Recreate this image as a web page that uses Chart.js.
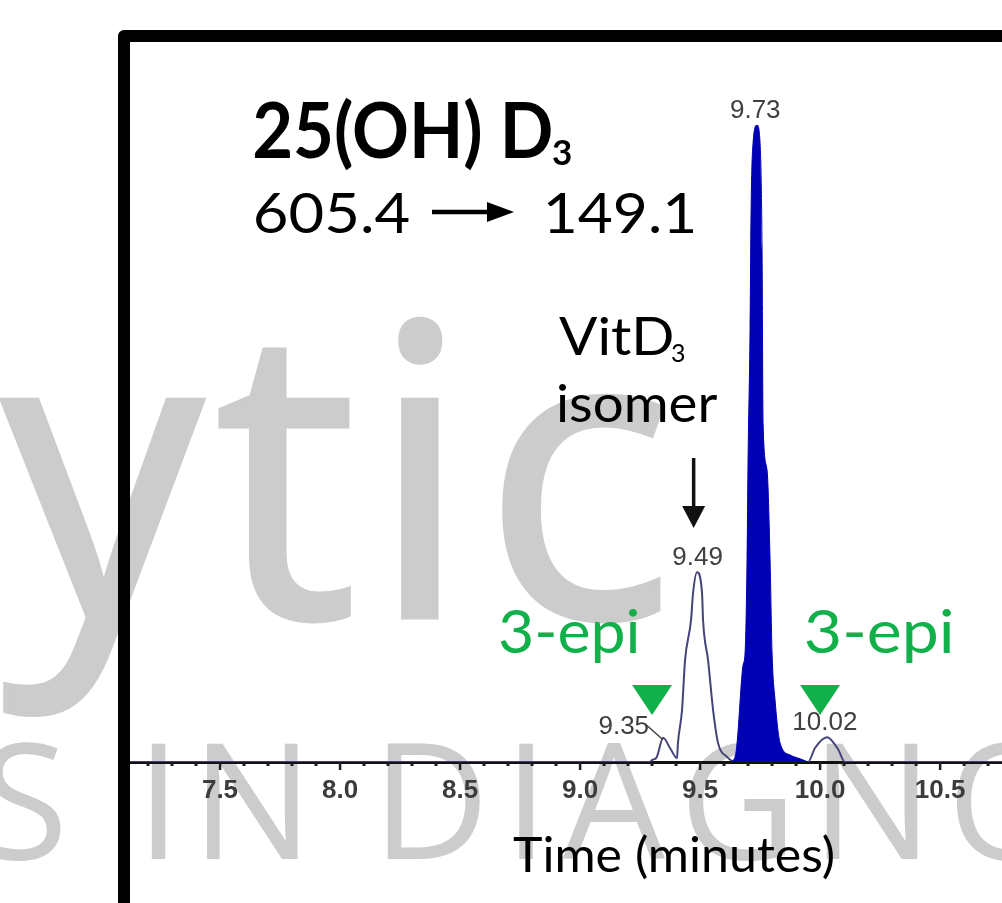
<!DOCTYPE html>
<html>
<head>
<meta charset="utf-8">
<script src="https://cdn.jsdelivr.net/npm/chart.js@4"></script>
<style>
  html, body { margin: 0; padding: 0; background: #fff; }
  #wrap { width: 1002px; height: 903px; position: relative; overflow: hidden; }
</style>
</head>
<body>
<div id="wrap"><canvas id="chart" width="1002" height="903"></canvas></div>
<script>
// Chromatogram trace (outline): time in minutes, relative signal
const traceTime = [7.125, 9.29, 9.30, 9.32, 9.346, 9.375, 9.404, 9.408, 9.425, 9.4375, 9.4625, 9.4708, 9.4875,
  9.5083, 9.5125, 9.5333, 9.5542, 9.575, 9.6125, 9.6458, 9.95, 9.979, 10.029, 10.075, 10.104, 10.758];
const traceSignal = [0, 0, 0.3, 0.8, 3.8, 2.2, 0.6, 3, 8.2, 16, 22.3, 26.5, 29.8,
  26.5, 22.3, 16, 8.2, 3, 0.8, 0, 0, 2.2, 3.9, 2, 0, 0];

// Integrated 25(OH)D3 peak (filled)
const peakTime = [9.625, 9.6458, 9.6542, 9.6792, 9.6875, 9.6958, 9.7, 9.7083, 9.7125, 9.7208, 9.7375,
  9.75, 9.7583, 9.7625, 9.7792, 9.7917, 9.8, 9.8125, 9.8333, 9.875, 9.9167, 9.95];
const peakSignal = [0, 0.8, 3.0, 15.2, 17.1, 31.7, 47.4, 67.8, 86.3, 97.2, 100,
  97.2, 80.4, 53.2, 45.8, 31.7, 17.1, 9.7, 3.0, 1.1, 0.5, 0];

// retention time labels
const peakLabels = ['9.35', '9.49', '9.73', '10.02'];
const peakLabelTimes = [9.35, 9.49, 9.73, 10.02];

// 3-epi markers
const epiTimes = [9.30, 10.00];

const xMin = 7.125;
const xMax = 10.758;

function toXY(xs, ys) {
  return xs.map((x, i) => ({ x: x, y: ys[i] }));
}

// draw text so that its ink starts at x, optionally squeezed to an ink width
function txt(ctx, s, x, y, font, color, w, stroke, spacing) {
  ctx.save();
  ctx.font = font;
  ctx.letterSpacing = spacing || '0px';
  ctx.fillStyle = color;
  ctx.textBaseline = 'alphabetic';
  ctx.textAlign = 'left';
  const m = ctx.measureText(s);
  const ink = m.actualBoundingBoxLeft + m.actualBoundingBoxRight;
  const k = w ? w / ink : 1;
  ctx.translate(x + m.actualBoundingBoxLeft * k, y);
  ctx.scale(k, 1);
  ctx.fillText(s, 0, 0);
  if (stroke) {
    ctx.strokeStyle = color;
    ctx.lineWidth = stroke;
    ctx.strokeText(s, 0, 0);
  }
  ctx.restore();
}

const watermark = {
  id: 'watermark',
  beforeDraw(chart) {
    const ctx = chart.ctx;
    ctx.save();
    ctx.fillStyle = '#fff';
    ctx.fillRect(0, 0, chart.width, chart.height);
    const grey = '#cccccc';
    txt(ctx, 'ytic', 2, 617, '405px "Open Sans"', grey, 662, 5, '12px');
    ctx.fillStyle = grey;
    ctx.textBaseline = 'alphabetic';
    ctx.font = '162px "Open Sans"';
    ctx.textAlign = 'right';
    ctx.fillText('S', 68, 859);
    ctx.textAlign = 'left';
    ctx.letterSpacing = '10px';
    ctx.fillText('IN', 136, 859);
    ctx.letterSpacing = '14px';
    ctx.fillText('DIAGNO', 372, 859);
    ctx.restore();
  }
};

const annotations = {
  id: 'annotations',
  afterDraw(chart) {
    const ctx = chart.ctx;
    const xs = chart.scales.x;
    const ys = chart.scales.y;
    const base = ys.getPixelForValue(0);

    // axis tick marks: majors every 0.5, dots every 0.1
    ctx.save();
    ctx.fillStyle = '#1e1e1e';
    xs.ticks.forEach(t => {
      const px = xs.getPixelForValue(t.value);
      const major = Math.abs(t.value * 2 - Math.round(t.value * 2)) < 1e-6;
      if (major) ctx.fillRect(px - 1.2, base, 2.5, 8);
      else ctx.fillRect(px - 1.5, base + 1, 3, 3);
    });
    ctx.restore();

    // retention time labels
    const lab = '26px "Liberation Sans", Arial, sans-serif';
    const allT = traceTime.concat(peakTime);
    const allS = traceSignal.concat(peakSignal);
    peakLabelTimes.forEach((t, i) => {
      let top = 0;
      allT.forEach((tt, j) => { if (Math.abs(tt - t) < 0.03) top = Math.max(top, allS[j]); });
      const px = xs.getPixelForValue(t);
      const py = ys.getPixelForValue(top);
      ctx.save();
      ctx.font = lab;
      ctx.fillStyle = '#404040';
      ctx.textBaseline = 'alphabetic';
      if (i === 0) {
        ctx.textAlign = 'right';
        ctx.fillText(peakLabels[i], px - 15, py - 4);
        ctx.strokeStyle = '#404040';
        ctx.lineWidth = 1.5;
        ctx.beginPath();
        ctx.moveTo(px - 18, py - 13);
        ctx.lineTo(px - 1, py + 2);
        ctx.stroke();
      } else {
        ctx.textAlign = 'center';
        ctx.fillText(peakLabels[i], px, py - 7);
      }
      ctx.restore();
    });

    // green 3-epi markers
    ctx.save();
    ctx.fillStyle = '#12b04a';
    epiTimes.forEach(t => {
      const px = xs.getPixelForValue(t);
      ctx.beginPath();
      ctx.moveTo(px - 20, 685);
      ctx.lineTo(px + 20, 685);
      ctx.lineTo(px, 715);
      ctx.closePath();
      ctx.fill();
    });
    ctx.restore();

    // black arrow down to the isomer peak
    const ax = xs.getPixelForValue(peakLabelTimes[1]) - 4;
    ctx.save();
    ctx.strokeStyle = '#111';
    ctx.fillStyle = '#111';
    ctx.lineWidth = 3.5;
    ctx.beginPath();
    ctx.moveTo(ax, 458);
    ctx.lineTo(ax, 510);
    ctx.stroke();
    ctx.beginPath();
    ctx.moveTo(ax - 11.5, 506);
    ctx.lineTo(ax + 11.5, 506);
    ctx.lineTo(ax, 528);
    ctx.closePath();
    ctx.fill();
    ctx.restore();

    // text
    txt(ctx, '25(OH) D', 254, 158, 'bold 77px Lato', '#000', 297);
    txt(ctx, '3', 553, 165, 'bold 35px Lato', '#000');
    txt(ctx, '605.4', 256, 233, '57px Lato', '#000', 153);
    txt(ctx, '149.1', 547, 233, '57px Lato', '#000', 147);
    ctx.save();
    ctx.strokeStyle = '#000';
    ctx.fillStyle = '#000';
    ctx.lineWidth = 4.5;
    ctx.beginPath();
    ctx.moveTo(432, 212);
    ctx.lineTo(494, 212);
    ctx.stroke();
    ctx.beginPath();
    ctx.moveTo(487, 202);
    ctx.lineTo(514, 212);
    ctx.lineTo(487, 222);
    ctx.closePath();
    ctx.fill();
    ctx.restore();
    txt(ctx, 'VitD', 559, 355, '53px Lato', '#000', 113);
    txt(ctx, '3', 672, 362, '25px Lato', '#000');
    txt(ctx, 'isomer', 559, 422, '53px Lato', '#000', 158);
    txt(ctx, '3-epi', 500, 653, '60px Lato', '#12b04a', 138);
    txt(ctx, '3-epi', 806, 653, '60px Lato', '#12b04a', 146);
    txt(ctx, 'Time (minutes)', 513, 872, '49px Lato', '#000', 320);

    // frame
    ctx.save();
    ctx.strokeStyle = '#000';
    ctx.lineWidth = 12;
    ctx.lineJoin = 'round';
    ctx.beginPath();
    ctx.moveTo(124, 910);
    ctx.lineTo(124, 36);
    ctx.lineTo(1010, 36);
    ctx.stroke();
    ctx.restore();
  }
};

function makeChart() {
  new Chart(document.getElementById('chart'), {
    type: 'line',
    data: {
      datasets: [
        {
          label: '25(OH)D3',
          data: toXY(peakTime, peakSignal),
          borderColor: '#0000b4',
          backgroundColor: '#0000b4',
          borderWidth: 1,
          fill: 'origin',
          pointRadius: 0,
          cubicInterpolationMode: 'monotone',
          order: 0,
        },
        {
          label: 'trace',
          data: toXY(traceTime, traceSignal),
          borderColor: '#44447a',
          borderWidth: 2,
          fill: false,
          pointRadius: 0,
          cubicInterpolationMode: 'monotone',
          order: 1,
        },
      ],
    },
    options: {
      responsive: false,
      devicePixelRatio: 1,
      animation: false,
      events: [],
      layout: { padding: { left: 130, right: 0, top: 125, bottom: 0 } },
      plugins: { legend: { display: false }, tooltip: { enabled: false } },
      scales: {
        x: {
          type: 'linear',
          min: xMin,
          max: xMax,
          afterFit: s => { s.height = 141; },
          grid: { display: false, drawTicks: false },
          border: { display: true, color: '#111', width: 3 },
          ticks: {
            stepSize: 0.1,
            includeBounds: false,
            autoSkip: false,
            maxRotation: 0,
            padding: 13,
            color: '#3c3c3c',
            font: { family: '"Liberation Sans", Arial, sans-serif', size: 26, weight: 'bold' },
            callback: v => (Math.abs(v * 2 - Math.round(v * 2)) < 1e-6 ? v.toFixed(1) : ''),
          },
        },
        y: { display: false, min: 0, max: 100 },
      },
    },
    plugins: [watermark, annotations],
  });
}

Promise.all([
  document.fonts.load('405px "Open Sans"'),
  document.fonts.load('bold 77px Lato'),
  document.fonts.load('57px Lato'),
  document.fonts.load('bold 22px "Liberation Sans"'),
]).then(makeChart, makeChart);
</script>
</body>
</html>
